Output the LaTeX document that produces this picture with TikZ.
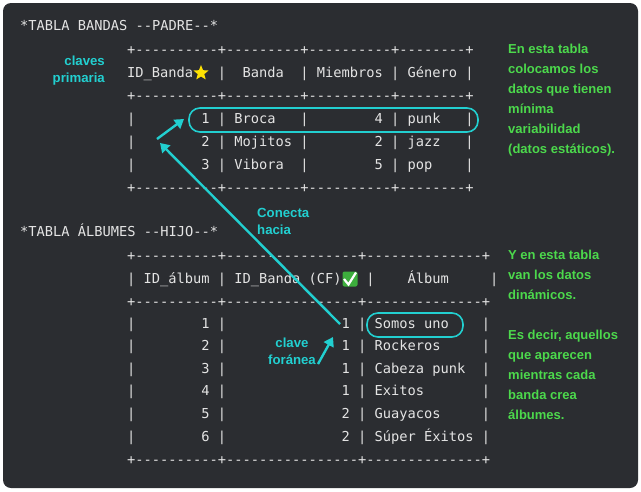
\documentclass[tikz,border=0pt]{standalone}
\usepackage{fontspec}
\setmainfont{Liberation Sans}
\setmonofont{DejaVu Sans Mono}
\usetikzlibrary{shapes.geometric,arrows.meta}
\definecolor{fondo}{HTML}{2B2D31}
\definecolor{texto}{HTML}{E4E4E4}
\definecolor{verde}{HTML}{4CD94C}
\definecolor{cian}{HTML}{22CFD0}
\tikzset{
  mono/.style={font=\ttfamily\fontsize{13.7}{14}\selectfont, text=texto, anchor=west, inner sep=0pt, text height=10pt, text depth=3pt},
  nota/.style={font=\bfseries\fontsize{13}{20}\selectfont, text=verde, anchor=north west, align=left, inner sep=0pt},
  clave/.style={font=\bfseries\fontsize{13.2}{17}\selectfont, text=cian, inner sep=0pt},
  flecha/.style={cian, line width=2.4pt, -{Triangle[length=9pt,width=11pt]}},
  marco/.style={cian, line width=1.6pt, rounded corners=11pt}
}
\begin{document}
\begin{tikzpicture}[x=1pt,y=-1pt]
    \useasboundingbox (0,0) rectangle (641,491);
    \fill[fondo, rounded corners=8pt] (3,3) rectangle (638,488);

    % Tabla bandas
    \node[mono] (t1) at (20,27) {*TABLA BANDAS --PADRE--*};
    \node[mono] (b1) at (127,51) {+----------+---------+----------+--------+};
    \node[mono] (h1) at (127,74) {ID\_Banda\ \ \ |\ \ Banda\ \ |\ Miembros\ |\ Género\ |};
    \node[mono] (b2) at (127,97) {+----------+---------+----------+--------+};
    \node[mono] (r1) at (127,120) {|\ \ \ \ \ \ \ \ 1\ |\ Broca\ \ \ |\ \ \ \ \ \ \ \ 4\ |\ punk\ \ \ |};
    \node[mono] (r2) at (127,143) {|\ \ \ \ \ \ \ \ 2\ |\ Mojitos\ |\ \ \ \ \ \ \ \ 2\ |\ jazz\ \ \ |};
    \node[mono] (r3) at (127,166) {|\ \ \ \ \ \ \ \ 3\ |\ Vibora\ \ |\ \ \ \ \ \ \ \ 5\ |\ pop\ \ \ \ |};
    \node[mono] (b3) at (127,189) {+----------+---------+----------+--------+};
    \node[star, star points=5, star point ratio=2.3, fill=yellow!85!orange, inner sep=0pt, minimum size=16pt] (estrella) at (201,73) {};

    % Tabla albumes
    \node[mono] (t2) at (20,233) {*TABLA ÁLBUMES --HIJO--*};
    \node[mono] (c1) at (127,257) {+----------+----------------+--------------+};
    \node[mono] (h2) at (127,280) {|\ ID\_álbum\ |\ ID\_Banda\ (CF)\ \ \ |\ \ \ \ Álbum\ \ \ \ \ |};
    \node[mono] (c2) at (127,303) {+----------+----------------+--------------+};
    \foreach \i/\b/\a [count=\k] in {1/1/Somos uno\ \ \ \ , 2/1/Rockeros\ \ \ \ \ , 3/1/Cabeza punk\ \ , 4/1/Exitos\ \ \ \ \ \ \ , 5/2/Guayacos\ \ \ \ \ , 6/2/Súper Éxitos\ }
      \node[mono] (f\k) at (127,302+22.6*\k) {|\ \ \ \ \ \ \ \ \i\ |\ \ \ \ \ \ \ \ \ \ \ \ \ \ \b\ |\ \a|};
    \node[mono] (c3) at (127,461) {+----------+----------------+--------------+};
    \node[fill=verde!80!black, rounded corners=2pt, minimum size=15pt, inner sep=0pt] (check) at (350,279) {};
    \draw[white, line width=2.2pt] (344,279) -- (348.5,284.5) -- (356,272.5);

    % Marcas
    \draw[marco] (189,108) rectangle (478,132);
    \draw[marco] (367,313) rectangle (463,337);

    % Anotaciones
    \node[clave, align=right, anchor=east] (prim) at (105,71) {claves\\primaria};
    \node[clave, align=left, anchor=west] (conecta) at (257,221) {Conecta\\hacia};
    \node[clave, align=center] (foranea) at (292,351) {clave\\foránea};
    \coordinate (uno) at (340,324);
    \coordinate (pk) at (160,143);
    \draw[flecha] (uno) -- (pk);
    \draw[flecha] (157,139) -- (184,119);
    \draw[flecha] (318,364) -- (333,337);

    \node[nota] (n1) at (508,44) {En esta tabla\\colocamos los\\datos que tienen\\mínima\\variabilidad\\(datos estáticos).};
    \node[nota] (n2) at (508,250) {Y en esta tabla\\van los datos\\dinámicos.};
    \node[nota] (n3) at (508,330) {Es decir, aquellos\\que aparecen\\mientras cada\\banda crea\\álbumes.};
\end{tikzpicture}
\end{document}
